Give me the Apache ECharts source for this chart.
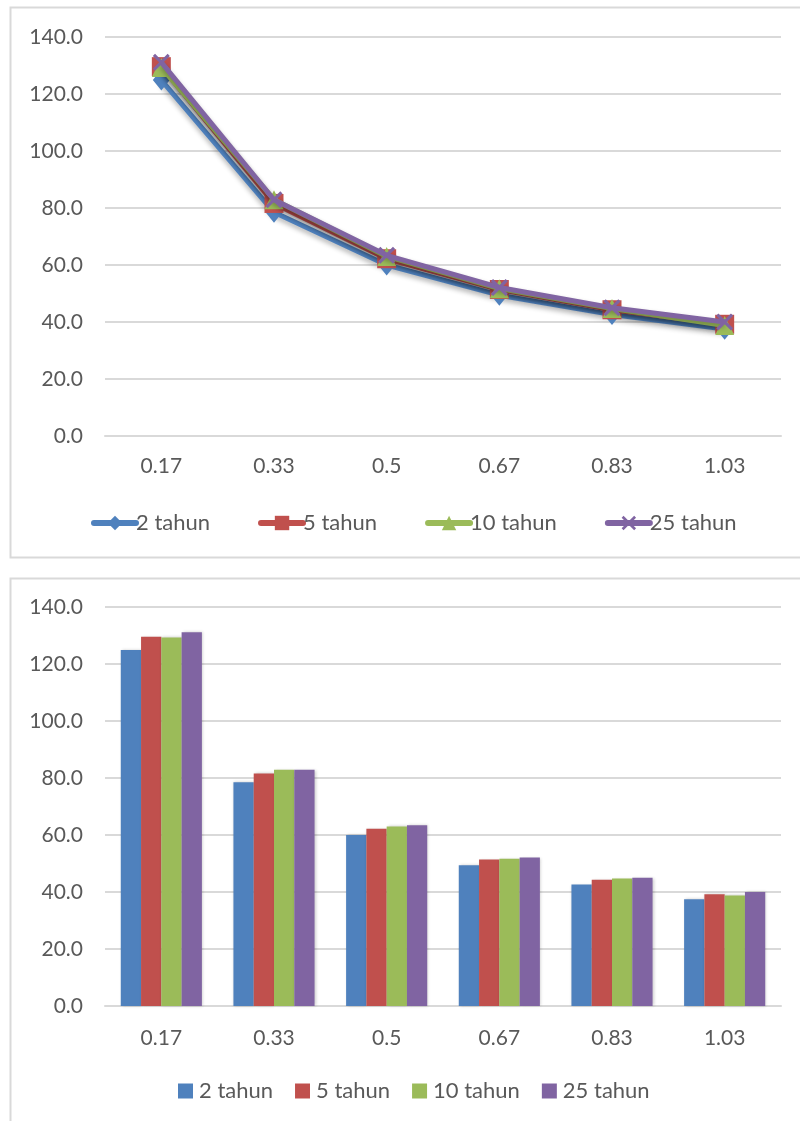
<!DOCTYPE html>
<html>
<head>
<meta charset="utf-8">
<script src="https://cdn.jsdelivr.net/npm/echarts@6/dist/echarts.min.js"></script>
<style>
html,body{margin:0;padding:0;background:#fff;}
.c{position:absolute;left:0;width:800px;}
</style>
</head>
<body>
<div id="c1" class="c" style="top:0;height:566px;"></div>
<div id="c2" class="c" style="top:566px;height:555px;"></div>
<script>
const categories = ['0.17', '0.33', '0.5', '0.67', '0.83', '1.03'];
const seriesNames = ['2 tahun', '5 tahun', '10 tahun', '25 tahun'];
const t2 = [124.9, 78.5, 60.0, 49.4, 42.6, 37.5];
const t5 = [129.6, 81.6, 62.2, 51.4, 44.3, 39.2];
const t10 = [129.3, 82.9, 63.0, 51.7, 44.7, 38.8];
const t25 = [131.1, 82.9, 63.4, 52.1, 45.0, 40.0];
const yTicks = [0, 20, 40, 60, 80, 100, 120, 140];

const values = [t2, t5, t10, t25];
const colors = ['#4F81BD', '#C0504D', '#9BBB59', '#8064A2'];
const xSym = 'path://M0,1.3 L1.3,0 L10,8.7 L8.7,10 Z M8.7,0 L10,1.3 L1.3,10 L0,8.7 Z';
const symbols = ['diamond', 'rect', 'triangle', xSym];
const symSizes = [[17, 21], 19, 19, 17];
const FONT = 'Lato';
const TXT = '#595959';

function axes(gridTop, gridH, xMargin) {
  return {
    grid: {left: 105, right: 19, top: gridTop, height: gridH, containLabel: false},
    xAxis: {
      type: 'category', data: categories, boundaryGap: true,
      axisLine: {show: true, lineStyle: {color: '#d9d9d9', width: 2}},
      axisTick: {show: false},
      axisLabel: {color: TXT, fontFamily: FONT, fontSize: 21, margin: xMargin}
    },
    yAxis: {
      type: 'value', min: yTicks[0], max: yTicks[yTicks.length - 1], interval: 20,
      axisLine: {show: false}, axisTick: {show: false},
      splitLine: {lineStyle: {color: '#d9d9d9', width: 2}},
      axisLabel: {color: TXT, fontFamily: FONT, fontSize: 21, margin: 22,
        formatter: v => v.toFixed(1)}
    }
  };
}

// Chart 1: lines
const c1 = echarts.init(document.getElementById('c1'), null, {renderer: 'canvas'});
const a1 = axes(37, 399, 20);
c1.setOption(Object.assign({
  animation: false,
  graphic: [{type: 'rect', shape: {x: 10.5, y: 7.5, width: 820, height: 550},
    style: {fill: 'none', stroke: '#d9d9d9', lineWidth: 2}, silent: true}],
  legend: {
    left: 86, top: 507, itemWidth: 42, itemHeight: 18, itemGap: 48,
    lineStyle: {width: 6, cap: 'round'},
    textStyle: {color: TXT, fontFamily: FONT, fontSize: 22, padding: [0, 0, 0, -5]},
    data: seriesNames
  },
  series: values.map((d, i) => ({
    name: seriesNames[i], type: 'line', data: d,
    symbol: symbols[i], symbolSize: symSizes[i],
    lineStyle: {width: 5, color: colors[i], shadowColor: 'rgba(0,0,0,0.3)', shadowBlur: 5, shadowOffsetY: 3},
    itemStyle: {color: colors[i]},
    z: 2 + i
  }))
}, a1));

// Chart 2: bars
const c2 = echarts.init(document.getElementById('c2'), null, {renderer: 'canvas'});
const a2 = axes(41, 399, 22);
c2.setOption(Object.assign({
  animation: false,
  graphic: [{type: 'rect', shape: {x: 10.5, y: 12.5, width: 820, height: 600},
    style: {fill: 'none', stroke: '#d9d9d9', lineWidth: 2}, silent: true}],
  legend: {
    left: 173, top: 509, itemWidth: 15, itemHeight: 15, itemGap: 22, icon: 'rect',
    textStyle: {color: TXT, fontFamily: FONT, fontSize: 22, padding: [0, 0, 0, 1]},
    data: seriesNames
  },
  series: values.map((d, i) => ({
    name: seriesNames[i], type: 'bar', data: d,
    barGap: '0%', barCategoryGap: '28%',
    itemStyle: {color: colors[i], shadowColor: 'rgba(0,0,0,0.2)', shadowBlur: 3, shadowOffsetX: 1}
  }))
}, a2));
</script>
</body>
</html>
